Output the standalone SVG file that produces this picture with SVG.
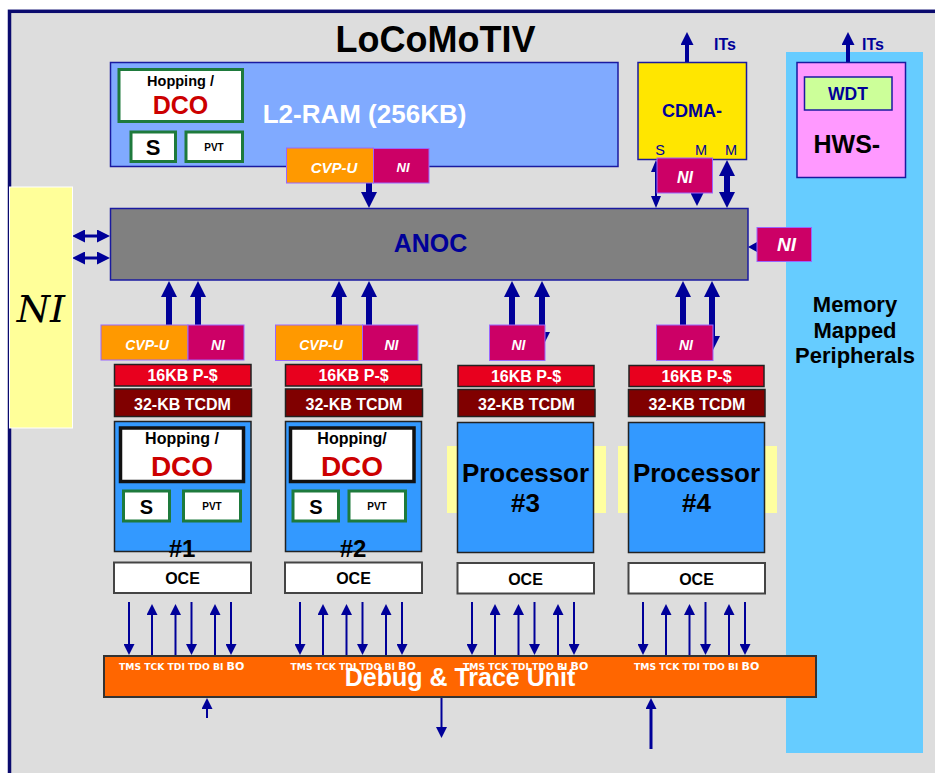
<svg xmlns="http://www.w3.org/2000/svg" width="935" height="773" viewBox="0 0 935 773">
  <defs>
    <style>
      text { font-family: "Liberation Sans", Arial, sans-serif; font-weight: bold; }
      .mid { text-anchor: middle; }
      .wht { fill: #ffffff; }
      .blk { fill: #000000; }
      .nav { fill: #000099; }
      .red { fill: #cc0000; }
      .norm { font-weight: normal; }
      .script { font-family: "DejaVu Serif", "Liberation Serif", serif; font-style: italic; font-weight: normal; }
      .ni { fill: #cc0066; stroke: #9966ff; stroke-width: 1; }
      .cvp { fill: #ff9900; stroke: #9966ff; stroke-width: 1; }
      .ital { font-style: italic; }
      .pcache { fill: #e8001e; stroke: #222222; stroke-width: 1.5; }
      .tcdm { fill: #800000; stroke: #222222; stroke-width: 1.5; }
      .proc { fill: #3399ff; stroke: #222222; stroke-width: 1.5; }
      .oce { fill: #ffffff; stroke: #444444; stroke-width: 2; }
      .gbox { fill: #ffffff; stroke: #1e7a3c; stroke-width: 3; }
      .kbox { fill: #ffffff; stroke: #111111; stroke-width: 3.5; }
      .strip { fill: #ffffa0; }
      .pins { font-family: "DejaVu Sans", Verdana, sans-serif; font-size: 9.2px; fill: #ffffff; }
      .a6 { stroke: #000099; stroke-width: 6; fill: none; }
      .a4 { stroke: #000099; stroke-width: 4; fill: none; }
      .a3 { stroke: #000099; stroke-width: 3; fill: none; }
      .a2 { stroke: #000099; stroke-width: 2; fill: none; }
    </style>
    <marker id="hBig" markerUnits="userSpaceOnUse" markerWidth="16" markerHeight="16" viewBox="0 0 16 16" refX="0" refY="8" orient="auto-start-reverse">
      <path d="M0,0 L16,8 L0,16 Z" fill="#000099"/>
    </marker>
    <marker id="hMid" markerUnits="userSpaceOnUse" markerWidth="13" markerHeight="13" viewBox="0 0 13 13" refX="0" refY="6.5" orient="auto-start-reverse">
      <path d="M0,0 L13,6.5 L0,13 Z" fill="#000099"/>
    </marker>
    <marker id="hThin" markerUnits="userSpaceOnUse" markerWidth="12" markerHeight="10" viewBox="0 0 12 10" refX="0" refY="5" orient="auto-start-reverse">
      <path d="M0,0 L12,5 L0,10 Z" fill="#000099"/>
    </marker>
    <marker id="hSm" markerUnits="userSpaceOnUse" markerWidth="11" markerHeight="11" viewBox="0 0 11 11" refX="0" refY="5.5" orient="auto-start-reverse">
      <path d="M0,0 L11,5.5 L0,11 Z" fill="#000099"/>
    </marker>
    <marker id="hTiny" markerUnits="userSpaceOnUse" markerWidth="9" markerHeight="10" viewBox="0 0 9 10" refX="0" refY="5" orient="auto-start-reverse">
      <path d="M0,0 L9,5 L0,10 Z" fill="#000099"/>
    </marker>
  </defs>

  <!-- page and outer frame -->
  <rect x="0" y="0" width="935" height="773" fill="#ffffff"/>
  <rect x="9.5" y="11.3" width="960" height="800" fill="#dddddd" stroke="#0a0a6e" stroke-width="3.5"/>

  <text x="435.5" y="52" class="mid blk" font-size="36">LoCoMoTIV</text>

  <!-- memory mapped peripheral area -->
  <g id="mmp">
    <rect x="786" y="52" width="137" height="701" fill="#66ccff"/>
    <text class="mid blk" font-size="22"><tspan x="855" y="312">Memory</tspan><tspan x="855" y="338">Mapped</tspan><tspan x="855" y="363">Peripherals</tspan></text>
  </g>

  <!-- connectors (drawn under the boxes they touch) -->
  <g id="connectors">
    <!-- interrupt outputs -->
    <line x1="687" y1="62" x2="687" y2="45" class="a4" marker-end="url(#hMid)"/>
    <line x1="848" y1="62" x2="848" y2="45" class="a4" marker-end="url(#hMid)"/>
    <!-- L2 CVP-U to ANOC -->
    <line x1="369" y1="183" x2="369" y2="192" class="a6" marker-end="url(#hBig)"/>
    <!-- CDMA ports -->
    <line x1="656" y1="172" x2="656" y2="196" class="a2" marker-start="url(#hThin)" marker-end="url(#hThin)"/>
    <line x1="697" y1="185" x2="697" y2="193" class="a2" marker-end="url(#hMid)"/>
    <line x1="727" y1="176" x2="727" y2="192" class="a6" marker-start="url(#hBig)" marker-end="url(#hBig)"/>
    <!-- right NI to ANOC -->
    <line x1="762" y1="247" x2="757" y2="247" class="a2" marker-end="url(#hTiny)"/>
    <!-- left NI panel to ANOC -->
    <line x1="85" y1="236" x2="97" y2="236" class="a3" marker-start="url(#hMid)" marker-end="url(#hMid)"/>
    <line x1="85" y1="258" x2="97" y2="258" class="a3" marker-start="url(#hMid)" marker-end="url(#hMid)"/>
    <!-- processor columns to ANOC -->
    <line x1="169" y1="325" x2="169" y2="297" class="a6" marker-end="url(#hBig)"/>
    <line x1="198" y1="325" x2="198" y2="297" class="a6" marker-end="url(#hBig)"/>
    <line x1="339" y1="325" x2="339" y2="297" class="a6" marker-end="url(#hBig)"/>
    <line x1="369" y1="325" x2="369" y2="297" class="a6" marker-end="url(#hBig)"/>
    <line x1="512" y1="325" x2="512" y2="297" class="a6" marker-end="url(#hBig)"/>
    <line x1="542" y1="332" x2="542" y2="297" class="a6" marker-start="url(#hBig)" marker-end="url(#hBig)"/>
    <line x1="683" y1="325" x2="683" y2="297" class="a6" marker-end="url(#hBig)"/>
    <line x1="712" y1="336" x2="712" y2="297" class="a6" marker-start="url(#hBig)" marker-end="url(#hBig)"/>
    <!-- JTAG / debug pins: column 1 -->
    <line x1="129" y1="602" x2="129" y2="644" class="a2" marker-end="url(#hSm)"/>
    <line x1="152" y1="655" x2="152" y2="615" class="a2" marker-end="url(#hSm)"/>
    <line x1="175.5" y1="655" x2="175.5" y2="615" class="a2" marker-end="url(#hSm)"/>
    <line x1="191.5" y1="602" x2="191.5" y2="644" class="a2" marker-end="url(#hSm)"/>
    <line x1="215" y1="655" x2="215" y2="615" class="a2" marker-end="url(#hSm)"/>
    <line x1="231" y1="602" x2="231" y2="644" class="a2" marker-end="url(#hSm)"/>
    <!-- column 2 -->
    <line x1="300" y1="602" x2="300" y2="644" class="a2" marker-end="url(#hSm)"/>
    <line x1="323" y1="655" x2="323" y2="615" class="a2" marker-end="url(#hSm)"/>
    <line x1="346.5" y1="655" x2="346.5" y2="615" class="a2" marker-end="url(#hSm)"/>
    <line x1="362.5" y1="602" x2="362.5" y2="644" class="a2" marker-end="url(#hSm)"/>
    <line x1="386" y1="655" x2="386" y2="615" class="a2" marker-end="url(#hSm)"/>
    <line x1="402" y1="602" x2="402" y2="644" class="a2" marker-end="url(#hSm)"/>
    <!-- column 3 -->
    <line x1="472" y1="602" x2="472" y2="644" class="a2" marker-end="url(#hSm)"/>
    <line x1="495" y1="655" x2="495" y2="615" class="a2" marker-end="url(#hSm)"/>
    <line x1="518.5" y1="655" x2="518.5" y2="615" class="a2" marker-end="url(#hSm)"/>
    <line x1="534.5" y1="602" x2="534.5" y2="644" class="a2" marker-end="url(#hSm)"/>
    <line x1="558" y1="655" x2="558" y2="615" class="a2" marker-end="url(#hSm)"/>
    <line x1="574" y1="602" x2="574" y2="644" class="a2" marker-end="url(#hSm)"/>
    <!-- column 4 -->
    <line x1="643" y1="602" x2="643" y2="644" class="a2" marker-end="url(#hSm)"/>
    <line x1="666" y1="655" x2="666" y2="615" class="a2" marker-end="url(#hSm)"/>
    <line x1="689.5" y1="655" x2="689.5" y2="615" class="a2" marker-end="url(#hSm)"/>
    <line x1="705.5" y1="602" x2="705.5" y2="644" class="a2" marker-end="url(#hSm)"/>
    <line x1="729" y1="655" x2="729" y2="615" class="a2" marker-end="url(#hSm)"/>
    <line x1="745" y1="602" x2="745" y2="644" class="a2" marker-end="url(#hSm)"/>
    <!-- debug unit external lines -->
    <line x1="207" y1="718" x2="207" y2="709" class="a2" marker-end="url(#hSm)"/>
    <line x1="441.5" y1="698" x2="441.5" y2="727" class="a2" marker-end="url(#hSm)"/>
    <line x1="651" y1="749" x2="651" y2="709" class="a3" marker-end="url(#hSm)"/>
  </g>

  <!-- left network interface panel -->
  <g id="ni-left">
    <rect x="9.5" y="187" width="63" height="241" fill="#ffff99" stroke="#ffffff" stroke-width="1"/>
    <text x="41" y="322" class="mid blk script" font-size="38">NI</text>
  </g>

  <!-- L2 memory -->
  <g id="l2-ram">
    <rect x="110.5" y="62.5" width="507.5" height="104" fill="#80aaff" stroke="#1a1aa0" stroke-width="1.5"/>
    <rect x="119" y="69.5" width="123.5" height="52" class="gbox"/>
    <text x="180.5" y="86" class="mid blk" font-size="14.5">Hopping /</text>
    <text x="180.5" y="113.5" class="mid red" font-size="25">DCO</text>
    <rect x="131" y="132" width="44.5" height="29.5" class="gbox"/>
    <text x="153" y="154.5" class="mid blk" font-size="22">S</text>
    <rect x="186" y="132" width="56.5" height="29.5" class="gbox"/>
    <text x="214" y="150.5" class="mid blk" font-size="10">PVT</text>
    <text x="364.5" y="123" class="mid wht" font-size="26">L2-RAM (256KB)</text>
  </g>
  <g id="l2-cvp">
    <rect x="286.5" y="148" width="87" height="35" class="cvp"/>
    <text x="334" y="172.5" class="mid wht ital" font-size="15">CVP-U</text>
  </g>
  <g id="l2-ni">
    <rect x="373.5" y="148.5" width="55.5" height="34.5" class="ni"/>
    <text x="403" y="172" class="mid wht ital" font-size="13">NI</text>
  </g>

  <!-- DMA controller -->
  <g id="cdma">
    <rect x="638" y="62.5" width="108.5" height="97" fill="#ffe600" stroke="#1a1aa0" stroke-width="1.5"/>
    <text x="662" y="117" class="nav" font-size="18">CDMA-</text>
    <text x="660" y="155" class="mid nav norm" font-size="14.5">S</text>
    <text x="701" y="155" class="mid nav norm" font-size="14.5">M</text>
    <text x="731" y="155" class="mid nav norm" font-size="14.5">M</text>
    <text x="714" y="50" class="nav" font-size="16">ITs</text>
  </g>
  <g id="cdma-ni">
    <rect x="657" y="158" width="55.5" height="35" class="ni"/>
    <text x="685" y="183" class="mid wht ital" font-size="16">NI</text>
  </g>

  <!-- hardware sync block -->
  <g id="hws">
    <rect x="797" y="62.5" width="108.5" height="115" fill="#ff99ff" stroke="#1a1aa0" stroke-width="1.5"/>
    <rect x="804.5" y="77" width="87.5" height="33" fill="#ccff99" stroke="#1a1aa0" stroke-width="1.5"/>
    <text x="848" y="99.5" class="mid nav" font-size="17.5">WDT</text>
    <text x="813.5" y="153" class="blk" font-size="25">HWS-</text>
    <text x="862" y="50" class="nav" font-size="16">ITs</text>
  </g>

  <!-- network on chip -->
  <g id="anoc">
    <rect x="110.5" y="208.5" width="637.5" height="71.5" fill="#808080" stroke="#1a1aa0" stroke-width="1.5"/>
    <text x="430.5" y="252" class="mid nav" font-size="25">ANOC</text>
  </g>
  <g id="anoc-ni">
    <rect x="757" y="227.5" width="54.5" height="34" class="ni"/>
    <text x="786.5" y="251" class="mid wht ital" font-size="19">NI</text>
  </g>

  <!-- processor 1 -->
  <g id="proc1">
    <rect x="101" y="325" width="87" height="35" class="cvp"/>
    <text x="147" y="349.5" class="mid wht ital" font-size="14">CVP-U</text>
    <rect x="188" y="325" width="56" height="35" class="ni"/>
    <text x="218" y="349.5" class="mid wht ital" font-size="14">NI</text>
    <rect x="114.5" y="364.5" width="136.5" height="21.5" class="pcache"/>
    <text x="182.5" y="381" class="mid wht" font-size="16">16KB P-$</text>
    <rect x="114.5" y="389" width="137" height="27.5" class="tcdm"/>
    <text x="182.5" y="409.5" class="mid wht" font-size="16">32-KB TCDM</text>
    <rect x="114.5" y="421.5" width="136.5" height="130" class="proc"/>
    <rect x="120.5" y="428" width="123" height="53.5" class="kbox"/>
    <text x="182" y="443.5" class="mid blk" font-size="16">Hopping /</text>
    <text x="182" y="475.5" class="mid red" font-size="28">DCO</text>
    <rect x="123.5" y="491" width="46" height="30" class="gbox"/>
    <text x="146.5" y="514" class="mid blk" font-size="20">S</text>
    <rect x="183.5" y="491" width="57" height="30" class="gbox"/>
    <text x="212" y="510" class="mid blk" font-size="10">PVT</text>
    <text x="182" y="556.5" class="mid blk" font-size="24">#1</text>
    <rect x="114" y="562.5" width="137" height="30.5" class="oce"/>
    <text x="182.5" y="583.5" class="mid blk" font-size="16">OCE</text>
  </g>

  <!-- processor 2 -->
  <g id="proc2">
    <rect x="275.5" y="325" width="87" height="35.5" class="cvp"/>
    <text x="321" y="349.5" class="mid wht ital" font-size="14">CVP-U</text>
    <rect x="362.5" y="325" width="55.5" height="35.5" class="ni"/>
    <text x="391.5" y="349.5" class="mid wht ital" font-size="14">NI</text>
    <rect x="285.5" y="364.5" width="136" height="21.5" class="pcache"/>
    <text x="353.5" y="381" class="mid wht" font-size="16">16KB P-$</text>
    <rect x="285.5" y="389" width="137" height="27.5" class="tcdm"/>
    <text x="354" y="409.5" class="mid wht" font-size="16">32-KB TCDM</text>
    <rect x="285.5" y="421.5" width="136" height="130" class="proc"/>
    <rect x="290.5" y="428" width="123.5" height="53.5" class="kbox"/>
    <text x="352" y="443.5" class="mid blk" font-size="16">Hopping/</text>
    <text x="352" y="475.5" class="mid red" font-size="28">DCO</text>
    <rect x="293" y="491" width="45.5" height="30" class="gbox"/>
    <text x="316" y="514" class="mid blk" font-size="20">S</text>
    <rect x="349" y="491" width="56.5" height="30" class="gbox"/>
    <text x="377" y="510" class="mid blk" font-size="10">PVT</text>
    <text x="353" y="556.5" class="mid blk" font-size="24">#2</text>
    <rect x="285" y="562.5" width="137" height="30.5" class="oce"/>
    <text x="353.5" y="583.5" class="mid blk" font-size="16">OCE</text>
  </g>

  <!-- processor 3 -->
  <g id="proc3">
    <rect x="489.5" y="325" width="55.5" height="35.5" class="ni"/>
    <text x="518.5" y="349.5" class="mid wht ital" font-size="14">NI</text>
    <rect x="458" y="365.5" width="136" height="21" class="pcache"/>
    <text x="526" y="381.5" class="mid wht" font-size="16">16KB P-$</text>
    <rect x="458" y="389.5" width="137" height="27" class="tcdm"/>
    <text x="526.5" y="409.5" class="mid wht" font-size="16">32-KB TCDM</text>
    <rect x="447" y="446" width="159" height="67" class="strip"/>
    <rect x="457.5" y="422.5" width="136" height="130" class="proc"/>
    <text class="mid blk" font-size="26"><tspan x="525.5" y="482">Processor</tspan><tspan x="525.5" y="512">#3</tspan></text>
    <rect x="457.5" y="563" width="136.5" height="30.5" class="oce"/>
    <text x="525.5" y="584.5" class="mid blk" font-size="16">OCE</text>
  </g>

  <!-- processor 4 -->
  <g id="proc4">
    <rect x="656.5" y="325" width="56.5" height="35.5" class="ni"/>
    <text x="686" y="349.5" class="mid wht ital" font-size="14">NI</text>
    <rect x="629" y="365.5" width="135" height="21" class="pcache"/>
    <text x="696.5" y="381.5" class="mid wht" font-size="16">16KB P-$</text>
    <rect x="628.5" y="389.5" width="136.5" height="27" class="tcdm"/>
    <text x="697" y="409.5" class="mid wht" font-size="16">32-KB TCDM</text>
    <rect x="618" y="446" width="159" height="67" class="strip"/>
    <rect x="628.5" y="422.5" width="136" height="130" class="proc"/>
    <text class="mid blk" font-size="26"><tspan x="696.5" y="482">Processor</tspan><tspan x="696.5" y="512">#4</tspan></text>
    <rect x="628.5" y="563" width="136.5" height="30.5" class="oce"/>
    <text x="696.5" y="584.5" class="mid blk" font-size="16">OCE</text>
  </g>

  <!-- debug and trace unit -->
  <g id="debug-trace">
    <rect x="104" y="656" width="712" height="41" fill="#ff6600" stroke="#333333" stroke-width="2"/>
    <text x="119" y="670" class="pins">TMS TCK TDI TDO BI <tspan font-size="11">BO</tspan></text>
    <text x="290.5" y="670" class="pins">TMS TCK TDI TDO BI <tspan font-size="11">BO</tspan></text>
    <text x="463" y="670" class="pins">TMS TCK TDI TDO BI <tspan font-size="11">BO</tspan></text>
    <text x="634" y="670" class="pins">TMS TCK TDI TDO BI <tspan font-size="11">BO</tspan></text>
    <text x="460" y="686" class="mid wht" font-size="25">Debug &amp; Trace Unit</text>
  </g>
</svg>
